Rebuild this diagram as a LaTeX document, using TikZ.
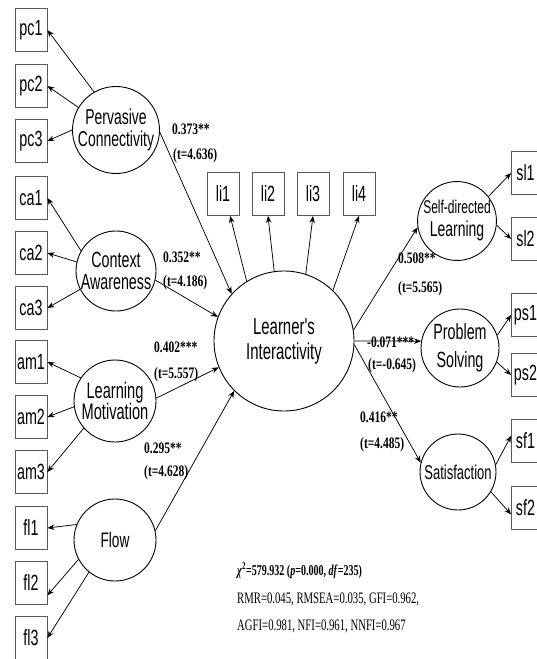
\documentclass[tikz,border=0pt]{standalone}
\usepackage{fontspec}
\usepackage{tikz}
\usetikzlibrary{arrows.meta, shapes}

\newfontfamily\lblfont[FakeStretch=0.65]{Liberation Sans}
\newfontfamily\coeffont[FakeStretch=0.72]{Liberation Serif}
\newfontfamily\statfont[FakeStretch=0.67]{Liberation Serif}

\begin{document}
\begin{tikzpicture}[x=1pt,y=-1pt]
            \useasboundingbox (0,0) rectangle (537,659);

            % observed variables
            \begin{scope}[every node/.style={rectangle,draw=black!65,line width=0.8pt,
                          minimum width=32pt,minimum height=43pt,inner sep=0pt,
                          font=\lblfont\fontsize{22}{24}\selectfont}]
                \node (pc1) at (31,30) {pc1};
                \node (pc2) at (31,86) {pc2};
                \node (pc3) at (31,141) {pc3};
                \node (ca1) at (31,198) {ca1};
                \node (ca2) at (31,253) {ca2};
                \node (ca3) at (31,308) {ca3};
                \node (am1) at (31,362) {am1};
                \node (am2) at (31,417) {am2};
                \node (am3) at (31,472) {am3};
                \node (fl1) at (31,528) {fl1};
                \node (fl2) at (31,583) {fl2};
                \node (fl3) at (31,638) {fl3};
                \node (li1) at (223,194) {li1};
                \node (li2) at (268,194) {li2};
                \node (li3) at (313,194) {li3};
                \node (li4) at (359,194) {li4};
                \node[minimum width=28pt] (sl1) at (525.5,173) {sl1};
                \node[minimum width=28pt] (sl2) at (525.5,239) {sl2};
                \node[minimum width=28pt] (ps1) at (525.5,315) {ps1};
                \node[minimum width=28pt] (ps2) at (525.5,375) {ps2};
                \node[minimum width=28pt] (sf1) at (525.5,441) {sf1};
                \node[minimum width=28pt] (sf2) at (525.5,508) {sf2};
            \end{scope}

            % latent variables
            \begin{scope}[every node/.style={circle,draw,line width=0.9pt,inner sep=0pt,align=center}]
                \node[minimum size=82pt,font=\lblfont\fontsize{21.5}{22}\selectfont] (PC) at (116,130) {Pervasive\\Connectivity};
                \node[minimum size=80pt,font=\lblfont\fontsize{22}{22}\selectfont] (CA) at (116,271) {Context\\Awareness};
                \node[minimum size=82pt,font=\lblfont\fontsize{22.5}{21}\selectfont] (LM) at (115,401) {Learning\\Motivation};
                \node[minimum size=82pt,font=\lblfont\fontsize{21}{22}\selectfont] (FL) at (115,540) {Flow};
                \node[minimum size=140pt,font=\lblfont\fontsize{23}{25}\selectfont] (LI) at (284,341) {Learner's\\Interactivity};
                \node[minimum size=72pt,font=\lblfont\fontsize{21.5}{23}\selectfont] (SDL) at (457,221) {{\fontsize{18.5}{20}\selectfont Self-directed}\\Learning};
                \node[minimum size=78pt,font=\lblfont\fontsize{22}{28}\selectfont] (PS) at (460,348) {Problem\\Solving};
                \node[minimum size=76pt,font=\lblfont\fontsize{20}{22}\selectfont] (SF) at (458,472) {Satisfaction};
            \end{scope}

            \begin{scope}[>={Stealth[length=7pt,width=5.5pt]},
                          every edge/.style={draw=black, line width=0.75pt}]
                \path[->] (PC.120) edge (pc1.east);
                \path[->] (PC.149) edge (pc2.east);
                \path[->] (PC.180) edge (pc3.east);
                \path[->] (CA.150) edge (ca1.east);
                \path[->] (CA.167) edge (ca2.east);
                \path[->] (CA.207) edge (ca3.east);
                \path[->] (LM.146) edge (am1.east);
                \path[->] (LM.188) edge (am2.east);
                \path[->] (LM.221) edge (am3.east);
                \path[->] (FL.158) edge (fl1.east);
                \path[->] (FL.208) edge (fl2.-37);
                \path[->] (FL.231) edge (fl3.east);

                \path[->] (LI.122) edge (li1.-72);
                \path[->] (LI.98) edge (li2.south);
                \path[->] (LI.72) edge (li3.south);
                \path[->] (LI.46) edge (li4.south);

                \path[->] (PC.-3) edge (LI.138);
                \path[->] (CA.-13) edge (LI.160);
                \path[->] (LM.4) edge (LI.202);
                \path[->] (FL.13) edge (LI.225);

                \path[->] (LI.9) edge (SDL.189);
                \path[->] (LI.0) edge (PS.170);
                \path[->] (LI.-3) edge (SF.166);

                \path[->] (SDL.38) edge (sl1.west);
                \path[->] (SDL.-6) edge (sl2.west);
                \path[->] (PS.19) edge (ps1.west);
                \path[->] (PS.-21) edge (ps2.west);
                \path[->] (SF.11) edge (sf1.160);
                \path[->] (SF.-31) edge (sf2.204);
            \end{scope}

            % path coefficients
            \begin{scope}[every node/.style={anchor=base west,inner sep=0pt,
                          font=\coeffont\bfseries\fontsize{16}{16}\selectfont}]
                \node (b1) at (172,134) {0.373**};
                \node (t1) at (173,159) {(t=4.636)};
                \node (b2) at (163,262) {0.352**};
                \node (t2) at (163,286) {(t=4.186)};
                \node (b3) at (154,352) {0.402***};
                \node (t3) at (154,378) {(t=5.557)};
                \node (b4) at (144,453) {0.295**};
                \node (t4) at (144,476) {(t=4.628)};
                \node (b5) at (398,263) {0.508**};
                \node (t5) at (398,292) {(t=5.565)};
                \node (b6) at (367,347) {-0.071***};
                \node (t6) at (368,369) {(t=-0.645)};
                \node (b7) at (360,422) {0.416**};
                \node (t7) at (360,448) {(t=4.485)};
            \end{scope}

            % fit indices
            \begin{scope}[every node/.style={anchor=base west,inner sep=0pt,
                          font=\statfont\fontsize{16}{16}\selectfont}]
                \node[font=\statfont\bfseries\fontsize{15}{15}\selectfont] (fit1) at (237,575)
                    {\textit{χ}\textsuperscript{2}=579.932 (\textit{p}=0.000, \textit{df}=235)};
                \node (fit2) at (237,603) {RMR=0.045, RMSEA=0.035, GFI=0.962,};
                \node (fit3) at (237,630) {AGFI=0.981, NFI=0.961, NNFI=0.967};
            \end{scope}

\end{tikzpicture}
\end{document}
